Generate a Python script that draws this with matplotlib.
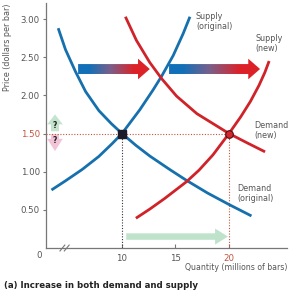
import numpy as np
import matplotlib
matplotlib.use('Agg')
import matplotlib.pyplot as plt
from matplotlib.patches import FancyArrow
from matplotlib.colors import LinearSegmentedColormap

# curves (quantity, price)
demand_orig_q = [4.04, 4.72, 5.66, 6.6, 7.84, 9.0, 10.0, 11.3, 12.6, 14.5, 16.04, 18.0, 20.0, 22.1]
demand_orig_p = [2.88, 2.60, 2.31, 2.05, 1.80, 1.63, 1.50, 1.345, 1.205, 1.025, 0.885, 0.72, 0.57, 0.42]
supply_orig_q = [3.41, 4.72, 6.29, 7.84, 9.1, 10.0, 11.66, 12.9, 13.7, 14.78, 15.72, 16.35]
supply_orig_p = [0.76, 0.88, 1.03, 1.20, 1.37, 1.50, 1.81, 2.07, 2.25, 2.52, 2.81, 3.03]
demand_new_q = [10.32, 11.35, 12.6, 13.7, 15.1, 17.0, 20.0, 21.66, 23.37]
demand_new_p = [3.03, 2.72, 2.43, 2.22, 1.99, 1.76, 1.50, 1.38, 1.26]
supply_new_q = [11.3, 12.6, 14.0, 15.3, 16.04, 17.2, 18.5, 20.0, 21.1, 22.0, 22.8, 23.35, 23.75]
supply_new_p = [0.39, 0.51, 0.65, 0.79, 0.87, 1.02, 1.22, 1.50, 1.72, 1.92, 2.13, 2.30, 2.45]

eq_orig = (10, 1.5)
eq_new = (20, 1.5)

# shift arrows: (tail x, tip x, y)
shift_arrows = [(5.9, 12.6, 2.345), (14.4, 22.9, 2.345)]
qty_arrow = (10.4, 19.9, 0.15)
# price question arrows: (x, start, end)
price_up = (3.74, 1.53, 1.75)
price_down = (3.74, 1.49, 1.27)

x_ticks = [10, 15, 20]
y_ticks = [0.5, 1.0, 1.5, 2.0, 2.5, 3.0]
y_tick_labels = ['0.50', '1.00', '1.50', '2.00', '2.50', '3.00']

BLUE = '#1670ad'
RED = '#cf2329'
TXT = '#555555'
HI = '#c0553f'

plt.rcParams['font.family'] = ['DejaVu Sans']

fig = plt.figure(figsize=(2.96, 3.0), dpi=100)
ax = fig.add_axes([0.1554, 0.1733, 0.8142, 0.8167])
ax.set_xlim(2.9, 25.42)
ax.set_ylim(0, 3.21)

for s in ['top', 'right']:
    ax.spines[s].set_visible(False)
for s in ['left', 'bottom']:
    ax.spines[s].set_color('#777777')
    ax.spines[s].set_linewidth(0.9)

# gradient shift arrows
cmap = LinearSegmentedColormap.from_list(
    'shift', [(0, '#1270b8'), (0.15, '#1270b8'), (0.45, '#7a5f8a'),
              (0.78, '#dc2228'), (1, '#dc2228')])
grad = np.linspace(0, 1, 256).reshape(1, -1)
for x0, x1, y in shift_arrows:
    arr = FancyArrow(x0, y, x1 - x0, 0, width=0.13, head_width=0.27,
                     head_length=1.1, length_includes_head=True,
                     facecolor='none', edgecolor='none')
    ax.add_patch(arr)
    im = ax.imshow(grad, cmap=cmap, aspect='auto', extent=[x0, x1, y - 0.15, y + 0.15],
                   zorder=2)
    im.set_clip_path(arr)

# quantity arrow
qa = FancyArrow(qty_arrow[0], qty_arrow[2], qty_arrow[1] - qty_arrow[0], 0,
                width=0.085, head_width=0.21, head_length=1.2,
                length_includes_head=True, facecolor='#bfe2cb',
                edgecolor='none', zorder=2)
ax.add_patch(qa)

# price up/down arrows
for (x, y0, y1), col, hl in [(price_up, '#c4e4cd', 0.13), (price_down, '#f3c4d8', 0.16)]:
    ax.add_patch(FancyArrow(x, y0, 0, y1 - y0, width=0.75, head_width=1.45,
                            head_length=hl, length_includes_head=True,
                            facecolor=col, edgecolor='none', zorder=2))
ax.text(price_up[0], 1.60, '?', ha='center', va='center', fontsize=5.5,
        fontweight='bold', color='#222222', zorder=3)
ax.text(price_down[0], 1.41, '?', ha='center', va='center', fontsize=5.5,
        fontweight='bold', color='#222222', zorder=3)

# curves
for q, p, c in [(demand_orig_q, demand_orig_p, BLUE),
                (supply_orig_q, supply_orig_p, BLUE),
                (demand_new_q, demand_new_p, RED),
                (supply_new_q, supply_new_p, RED)]:
    ax.plot(q, p, color=c, lw=2.0, zorder=4, solid_capstyle='butt',
            solid_joinstyle='round')

# dotted guides
ax.plot([2.9, eq_new[0]], [1.5, 1.5], color=HI, lw=0.8, ls=(0, (1, 1.5)), zorder=3)
ax.plot([eq_orig[0]] * 2, [0, eq_orig[1]], color='#333344', lw=0.8,
        ls=(0, (1, 1.5)), zorder=3)
ax.plot([eq_new[0]] * 2, [0, eq_new[1]], color=HI, lw=0.8, ls=(0, (1, 1.5)), zorder=3)

# equilibrium points
ax.plot(*eq_orig, marker='s', ms=5.5, color='#1b1b2a', zorder=6)
ax.plot(*eq_new, marker='o', ms=5.5, mfc='#d4262c', mec='#4a1010', mew=0.8, zorder=6)

# ticks
ax.set_xticks(x_ticks)
ax.set_xticklabels([str(t) for t in x_ticks])
ax.set_yticks(y_ticks)
ax.set_yticklabels(y_tick_labels)
ax.tick_params(axis='x', direction='in', length=3, width=0.8, color='#777777',
               labelsize=6.2, labelcolor=TXT, pad=4)
ax.tick_params(axis='y', direction='out', length=2.5, width=0.8, color='#777777',
               labelsize=6.2, labelcolor=TXT, pad=2)
ax.get_yticklabels()[2].set_color(HI)
ax.get_xticklabels()[2].set_color(HI)

# axis break and origin
for dx in (0.0, 0.018):
    ax.plot([0.058 + dx, 0.078 + dx], [-0.012, 0.012], transform=ax.transAxes,
            color='#777777', lw=0.8, clip_on=False, zorder=7)
fig.text(39 / 296, 1 - 255 / 300, '0', ha='center', va='center',
         fontsize=6.2, color=TXT)

# labels
fig.text(8 / 296, 1 - 47 / 300, 'Price (dollars per bar)', rotation=90,
         ha='center', va='center', fontsize=5.8, color=TXT)
fig.text(287 / 296, 1 - 267 / 300, 'Quantity (millions of bars)',
         ha='right', va='center', fontsize=5.6, color=TXT)
fig.text(4 / 296, 1 - 285 / 300, '(a) Increase in both demand and supply',
         ha='left', va='center', fontsize=6.2, fontweight='bold', color='#222222')

lab = dict(ha='left', va='top', fontsize=5.8, color=TXT, linespacing=1.1)
fig.text(196 / 296, 1 - 12 / 300, 'Supply\n(original)', **lab)
fig.text(255 / 296, 1 - 34 / 300, 'Supply\n(new)', **lab)
fig.text(254 / 296, 1 - 121 / 300, 'Demand\n(new)', **lab)
fig.text(237 / 296, 1 - 184 / 300, 'Demand\n(original)', **lab)

fig.savefig('out.png', dpi=100)
